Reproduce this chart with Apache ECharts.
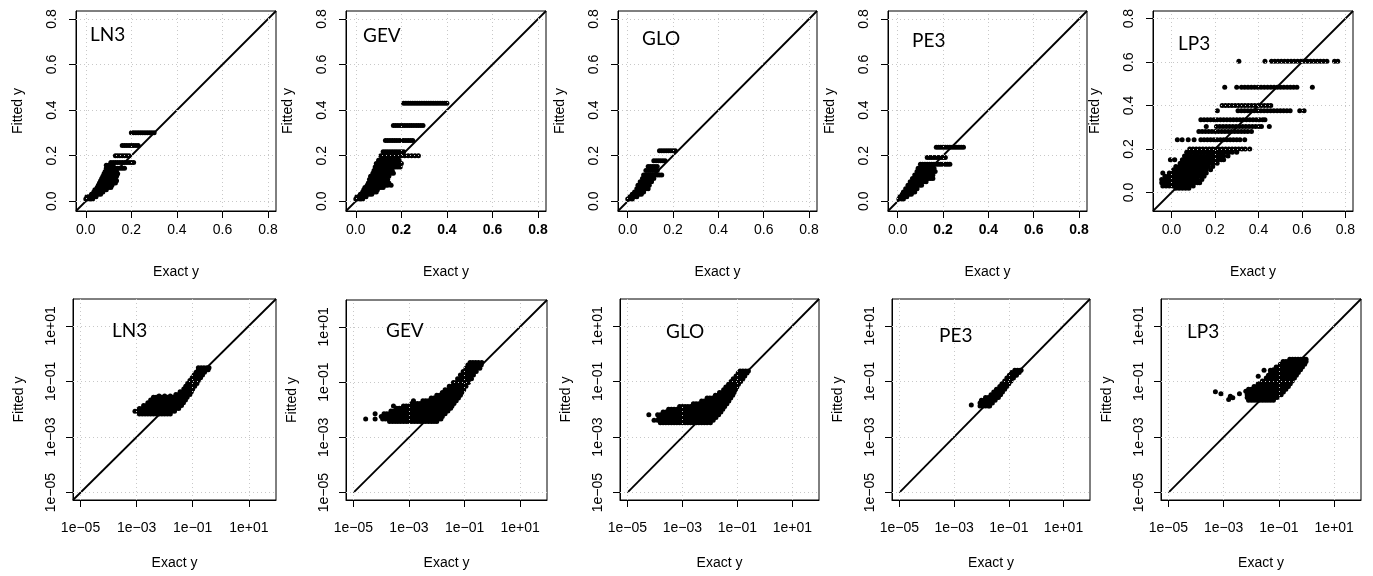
<!DOCTYPE html>
<html><head><meta charset="utf-8">
<script src="https://cdn.jsdelivr.net/npm/echarts@6/dist/echarts.min.js"></script>
<style>html,body{margin:0;padding:0;background:#fff}#c{width:1373px;height:576px}</style>
</head><body><div id="c"></div>
<script>
// ---------- DATA ----------
const panelNames = ['LN3', 'GEV', 'GLO', 'PE3', 'LP3'];
const xAxisTitle = 'Exact y';
const yAxisTitle = 'Fitted y';
const linTicks = [0, 0.2, 0.4, 0.6, 0.8];
const logTicks = [-5, -3, -1, 1];               // log10 positions
const logTickLabels = ['1e\u221205', '1e\u221203', '1e\u221201', '1e+01'];

// Top row (linear): each row = [fitted y, exact y values...]
const ln3Lin = [
 [0.30, 0.20,0.21,0.22,0.23,0.24,0.25,0.26,0.27,0.28,0.29,0.30],
 [0.245, 0.16,0.17,0.18,0.19,0.20,0.21,0.22,0.23],
 [0.20, 0.13,0.14,0.15,0.16,0.17,0.18,0.19],
 [0.17, 0.11,0.12,0.13,0.14,0.15,0.16,0.17,0.18,0.19,0.20,0.21],
 [0.158, 0.09,0.10,0.11,0.12],
 [0.145, 0.09,0.10,0.11,0.12,0.13,0.14,0.15,0.16,0.17],
 [0.13, 0.085,0.095,0.105,0.115,0.125,0.135],
 [0.12, 0.08,0.09,0.10,0.11,0.12,0.13,0.14],
 [0.11, 0.075,0.085,0.095,0.105,0.115,0.125,0.135],
 [0.10, 0.07,0.08,0.09,0.10,0.11,0.12,0.13],
 [0.09, 0.065,0.075,0.085,0.095,0.105,0.115,0.125,0.135],
 [0.08, 0.06,0.07,0.08,0.09,0.10,0.11,0.12,0.13],
 [0.07, 0.055,0.065,0.075,0.085,0.095,0.105,0.115],
 [0.06, 0.05,0.06,0.07,0.08,0.09,0.10,0.11],
 [0.05, 0.04,0.05,0.06,0.07,0.08,0.09],
 [0.04, 0.035,0.045,0.055,0.065,0.075],
 [0.03, 0.025,0.035,0.045,0.055,0.065],
 [0.02, 0.005,0.015,0.025,0.035,0.045],
 [0.01, 0.0,0.01,0.02,0.03]
];
const gevLin = [
 [0.43, 0.21,0.22,0.23,0.24,0.25,0.26,0.27,0.28,0.29,0.30,0.31,0.32,0.33,0.34,0.35,0.36,0.37,0.38,0.39,0.40],
 [0.332, 0.165,0.175,0.185,0.195,0.205,0.215,0.225,0.235,0.245,0.255,0.265,0.275,0.285,0.295],
 [0.266, 0.13,0.14,0.15,0.16,0.17,0.18,0.19,0.20,0.21,0.22,0.23,0.24,0.25],
 [0.217, 0.12,0.13,0.14,0.15,0.16,0.17,0.18,0.19,0.20,0.21],
 [0.20, 0.11,0.12,0.13,0.14,0.15,0.16,0.17,0.18,0.19,0.20,0.215,0.23,0.245,0.26,0.275],
 [0.18, 0.10,0.11,0.12,0.13,0.14,0.15,0.16,0.17,0.18,0.19],
 [0.165, 0.09,0.10,0.11,0.12,0.13,0.14,0.15,0.16,0.17,0.18,0.19,0.20],
 [0.15, 0.085,0.095,0.105,0.115,0.125,0.135,0.145,0.155,0.165,0.175,0.185,0.195],
 [0.135, 0.08,0.09,0.10,0.11,0.12,0.13,0.14,0.15,0.16],
 [0.123, 0.075,0.085,0.095,0.105,0.115,0.125,0.135,0.145,0.155,0.165],
 [0.11, 0.065,0.075,0.085,0.095,0.105,0.115,0.125,0.135,0.145],
 [0.095, 0.06,0.07,0.08,0.09,0.10,0.11,0.12,0.13,0.14],
 [0.08, 0.055,0.065,0.075,0.085,0.095,0.105,0.115,0.125,0.135,0.145],
 [0.07, 0.05,0.06,0.07,0.08,0.09,0.10,0.11,0.12,0.13,0.14,0.155],
 [0.06, 0.04,0.05,0.06,0.07,0.08,0.09,0.10,0.11,0.12],
 [0.05, 0.035,0.045,0.055,0.065,0.075,0.085,0.095],
 [0.04, 0.03,0.04,0.05,0.06,0.07,0.08,0.09],
 [0.03, 0.02,0.03,0.04,0.05,0.06,0.07],
 [0.02, 0.005,0.015,0.025,0.035,0.045],
 [0.01, 0.0,0.01,0.02,0.03]
];
const gloLin = [
 [0.222, 0.14,0.15,0.16,0.17,0.18,0.19,0.20,0.21],
 [0.178, 0.115,0.125,0.135,0.145,0.155,0.165],
 [0.152, 0.09,0.10,0.11,0.12,0.13],
 [0.135, 0.08,0.09,0.10,0.11,0.12,0.13],
 [0.115, 0.07,0.08,0.09,0.10,0.11,0.12,0.13,0.14,0.15],
 [0.10, 0.065,0.075,0.085,0.095,0.105,0.115],
 [0.085, 0.055,0.065,0.075,0.085,0.095,0.105],
 [0.07, 0.045,0.055,0.065,0.075,0.085,0.095],
 [0.055, 0.04,0.05,0.06,0.07,0.08,0.09],
 [0.04, 0.03,0.04,0.05,0.06,0.07],
 [0.03, 0.02,0.03,0.04,0.05,0.06],
 [0.02, 0.01,0.02,0.03,0.04],
 [0.01, 0.0,0.01,0.02]
];
const pe3Lin = [
 [0.237, 0.17,0.18,0.19,0.20,0.21,0.22,0.23,0.24,0.25,0.26,0.27,0.28,0.29],
 [0.192, 0.13,0.14,0.15,0.16,0.17,0.18,0.19,0.20,0.21],
 [0.162, 0.10,0.11,0.12,0.13,0.14,0.15,0.16,0.17,0.18,0.19,0.20,0.21,0.22,0.23],
 [0.145, 0.09,0.10,0.11,0.12,0.13,0.14,0.15,0.16],
 [0.13, 0.085,0.095,0.105,0.115,0.125,0.135,0.145,0.155,0.165],
 [0.115, 0.075,0.085,0.095,0.105,0.115,0.125,0.135,0.145,0.155],
 [0.10, 0.065,0.075,0.085,0.095,0.105,0.115,0.125,0.135,0.145,0.155],
 [0.085, 0.055,0.065,0.075,0.085,0.095,0.105,0.115,0.125],
 [0.07, 0.045,0.055,0.065,0.075,0.085,0.095,0.105],
 [0.055, 0.035,0.045,0.055,0.065,0.075,0.085],
 [0.04, 0.025,0.035,0.045,0.055,0.065,0.075],
 [0.03, 0.02,0.03,0.04,0.05,0.06],
 [0.02, 0.01,0.02,0.03,0.04],
 [0.01, 0.005,0.015,0.025]
];
const lp3Lin = [
 [0.604, 0.31,0.43,0.46,0.475,0.49,0.505,0.52,0.535,0.55,0.565,0.58,0.595,0.61,0.625,0.64,0.655,0.67,0.685,0.70,0.715,0.75,0.765],
 [0.484, 0.245,0.30,0.322,0.337,0.352,0.367,0.382,0.397,0.412,0.427,0.442,0.457,0.472,0.487,0.502,0.517,0.532,0.547,0.562,0.577,0.648],
 [0.40, 0.233,0.248,0.263,0.278,0.293,0.308,0.323,0.338,0.353,0.368,0.383,0.398,0.413,0.428,0.443,0.457],
 [0.376, 0.211,0.306,0.321,0.336,0.351,0.366,0.381,0.396,0.411,0.426,0.441,0.456,0.471,0.486,0.501,0.516,0.531,0.546,0.59,0.61],
 [0.335, 0.135,0.15,0.165,0.18,0.195,0.21,0.225,0.24,0.255,0.27,0.285,0.30,0.315,0.33,0.345,0.36,0.375,0.39,0.405,0.42,0.43],
 [0.304, 0.16,0.207,0.222,0.237,0.252,0.267,0.282,0.297,0.312,0.327,0.342,0.357,0.372,0.387,0.402,0.414,0.45],
 [0.281, 0.126,0.141,0.156,0.171,0.186,0.201,0.216,0.231,0.246,0.261,0.276,0.291,0.306,0.321,0.336,0.351,0.368],
 [0.243, 0.027,0.049,0.077,0.104,0.135,0.15,0.165,0.18,0.195,0.21,0.225,0.24,0.255,0.27,0.285,0.30,0.315,0.337],
 [0.20, 0.084,0.099,0.114,0.129,0.144,0.159,0.174,0.189,0.204,0.219,0.234,0.249,0.264,0.279,0.294,0.309,0.324,0.339,0.36],
 [0.185, 0.07,0.085,0.10,0.115,0.13,0.145,0.16,0.175,0.19,0.205,0.22,0.235,0.25,0.265,0.28,0.30],
 [0.168, 0.06,0.075,0.09,0.105,0.12,0.135,0.15,0.165,0.18,0.195,0.21,0.225,0.24,0.26],
 [0.151, -0.005,0.015,0.05,0.065,0.08,0.095,0.11,0.125,0.14,0.155,0.17,0.185,0.20,0.215,0.23,0.24],
 [0.135, 0.04,0.055,0.07,0.085,0.10,0.115,0.13,0.145,0.16,0.175,0.19,0.21],
 [0.12, 0.02,0.035,0.05,0.065,0.08,0.095,0.11,0.125,0.14,0.155,0.17,0.19],
 [0.105, 0.01,0.025,0.04,0.055,0.07,0.085,0.10,0.115,0.13,0.145,0.16,0.18],
 [0.09, -0.04,-0.01,0.005,0.02,0.035,0.05,0.065,0.08,0.095,0.11,0.125,0.14,0.16],
 [0.075, -0.03,-0.015,0.0,0.015,0.03,0.045,0.06,0.075,0.09,0.105,0.12,0.135,0.15],
 [0.06, -0.045,-0.03,-0.015,0.0,0.015,0.03,0.045,0.06,0.075,0.09,0.105,0.12,0.14],
 [0.045, -0.045,-0.03,-0.015,0.0,0.015,0.03,0.045,0.06,0.075,0.09,0.105,0.12,0.13],
 [0.03, -0.04,-0.025,-0.01,0.005,0.02,0.035,0.05,0.065,0.08,0.10],
 [0.02, 0.02,0.035,0.05,0.065,0.08]
];

// Bottom row (log10 of values): each row = [log10 fitted y, log10 exact y values...]
const ln3Log = [
 [-2.17, -2.9,-2.8,-2.7,-2.6,-2.5,-2.4,-2.3,-2.2,-2.1,-2.0,-1.9,-1.8],
 [-2.07, -3.06,-2.95,-2.85,-2.75,-2.65,-2.55,-2.45,-2.35,-2.25,-2.15,-2.05,-1.95,-1.85,-1.75,-1.65],
 [-1.97, -2.9,-2.8,-2.7,-2.6,-2.5,-2.4,-2.3,-2.2,-2.1,-2.0,-1.9,-1.8,-1.7,-1.6,-1.5],
 [-1.87, -2.75,-2.65,-2.55,-2.45,-2.35,-2.25,-2.15,-2.05,-1.95,-1.85,-1.75,-1.65,-1.55,-1.45,-1.4],
 [-1.77, -2.6,-2.5,-2.4,-2.3,-2.2,-2.1,-2.0,-1.9,-1.8,-1.7,-1.6,-1.5,-1.4,-1.33],
 [-1.67, -2.5,-2.4,-2.3,-2.2,-2.1,-2.0,-1.9,-1.8,-1.7,-1.6,-1.5,-1.4,-1.32,-1.26],
 [-1.57, -2.4,-2.3,-2.2,-2.1,-2.0,-1.9,-1.8,-1.7,-1.6,-1.5,-1.4,-1.3,-1.2],
 [-1.52, -2.2,-2.0,-1.8,-1.6],
 [-1.47, -1.6,-1.5,-1.4,-1.3,-1.2,-1.1],
 [-1.37, -1.45,-1.35,-1.25,-1.15,-1.05],
 [-1.27, -1.32,-1.22,-1.12,-1.0],
 [-1.17, -1.25,-1.15,-1.05,-0.93],
 [-1.07, -1.18,-1.08,-0.98,-0.85],
 [-0.97, -1.1,-1.0,-0.9,-0.8],
 [-0.87, -1.02,-0.92,-0.82,-0.72],
 [-0.77, -0.95,-0.85,-0.75,-0.65],
 [-0.67, -0.88,-0.78,-0.68,-0.58],
 [-0.58, -0.8,-0.7,-0.6,-0.5,-0.45],
 [-0.51, -0.8,-0.7,-0.6,-0.5,-0.42]
];
const gevLog = [
 [-2.43, -3.7,-3.6,-3.5,-3.4,-3.3,-3.2,-3.1,-3.0,-2.9,-2.8,-2.7,-2.6,-2.5,-2.4,-2.3,-2.2,-2.1,-2.0],
 [-2.34, -4.56,-4.22,-3.95,-3.85,-3.75,-3.65,-3.55,-3.45,-3.35,-3.25,-3.15,-3.05,-2.95,-2.85,-2.75,-2.65,-2.55,-2.45,-2.35,-2.25,-2.15,-2.05,-1.95,-1.85],
 [-2.25, -4.0,-3.9,-3.8,-3.7,-3.6,-3.5,-3.4,-3.3,-3.2,-3.1,-3.0,-2.9,-2.8,-2.7,-2.6,-2.5,-2.4,-2.3,-2.2,-2.1,-2.0,-1.9,-1.8],
 [-2.15, -4.22,-3.9,-3.8,-3.7,-3.6,-3.5,-3.4,-3.3,-3.2,-3.1,-3.0,-2.9,-2.8,-2.7,-2.6,-2.5,-2.4,-2.3,-2.2,-2.1,-2.0,-1.9,-1.8,-1.7],
 [-2.05, -3.65,-3.55,-3.45,-3.35,-3.25,-3.15,-3.05,-2.95,-2.85,-2.75,-2.65,-2.55,-2.45,-2.35,-2.25,-2.15,-2.05,-1.95,-1.85,-1.75,-1.65,-1.6],
 [-1.95, -3.45,-3.35,-3.25,-3.15,-3.05,-2.95,-2.85,-2.75,-2.65,-2.55,-2.45,-2.35,-2.25,-2.15,-2.05,-1.95,-1.85,-1.75,-1.65,-1.55,-1.5],
 [-1.87, -3.56,-3.2,-3.1,-3.0,-2.9,-2.8,-2.7,-2.6,-2.5,-2.4,-2.3,-2.2,-2.1,-2.0,-1.9,-1.8,-1.7,-1.6,-1.5,-1.45],
 [-1.78, -2.9,-2.8,-2.7,-2.6,-2.5,-2.4,-2.3,-2.2,-2.1,-2.0,-1.9,-1.8,-1.7,-1.6,-1.5,-1.38],
 [-1.68, -2.84,-2.5,-2.4,-2.3,-2.2,-2.1,-2.0,-1.9,-1.8,-1.7,-1.6,-1.5,-1.4,-1.3],
 [-1.58, -2.2,-2.1,-2.0,-1.9,-1.8,-1.7,-1.6,-1.5,-1.4,-1.3,-1.22],
 [-1.48, -2.0,-1.9,-1.8,-1.7,-1.6,-1.5,-1.4,-1.3,-1.2,-1.15],
 [-1.38, -1.8,-1.7,-1.6,-1.5,-1.4,-1.3,-1.2,-1.1],
 [-1.28, -1.7,-1.6,-1.5,-1.4,-1.3,-1.2,-1.1,-1.03],
 [-1.15, -1.55,-1.45,-1.35,-1.25,-1.15,-1.05,-0.95],
 [-1.02, -1.4,-1.3,-1.2,-1.1,-1.0,-0.9,-0.86],
 [-0.88, -1.25,-1.15,-1.05,-0.95,-0.85,-0.75],
 [-0.75, -1.15,-1.05,-0.95,-0.85,-0.75,-0.68],
 [-0.62, -1.05,-0.95,-0.85,-0.75,-0.65,-0.58],
 [-0.5, -0.95,-0.85,-0.75,-0.65,-0.55,-0.45],
 [-0.38, -0.88,-0.78,-0.68,-0.58,-0.48,-0.4],
 [-0.29, -0.8,-0.7,-0.6,-0.5,-0.38]
];
const gloLog = [
 [-2.49, -3.8,-3.7,-3.6,-3.5,-3.4,-3.3,-3.2,-3.1,-3.0,-2.9,-2.8,-2.7,-2.6,-2.5,-2.4,-2.3,-2.2,-2.1,-1.98],
 [-2.4, -4.03,-3.9,-3.8,-3.7,-3.6,-3.5,-3.4,-3.3,-3.2,-3.1,-3.0,-2.9,-2.8,-2.7,-2.6,-2.5,-2.4,-2.3,-2.2,-2.1,-2.0,-1.88],
 [-2.3, -3.85,-3.75,-3.65,-3.55,-3.45,-3.35,-3.25,-3.15,-3.05,-2.95,-2.85,-2.75,-2.65,-2.55,-2.45,-2.35,-2.25,-2.15,-2.05,-1.95,-1.85,-1.78],
 [-2.2, -4.22,-3.9,-3.8,-3.7,-3.6,-3.5,-3.4,-3.3,-3.2,-3.1,-3.0,-2.9,-2.8,-2.7,-2.6,-2.5,-2.4,-2.3,-2.2,-2.1,-2.0,-1.9,-1.8,-1.68],
 [-2.1, -3.7,-3.6,-3.5,-3.4,-3.3,-3.2,-3.1,-3.0,-2.9,-2.8,-2.7,-2.6,-2.5,-2.4,-2.3,-2.2,-2.1,-2.0,-1.9,-1.8,-1.7,-1.6],
 [-2.0, -3.5,-3.4,-3.3,-3.2,-3.1,-3.0,-2.9,-2.8,-2.7,-2.6,-2.5,-2.4,-2.3,-2.2,-2.1,-2.0,-1.9,-1.8,-1.7,-1.6,-1.53],
 [-1.9, -3.1,-3.0,-2.9,-2.8,-2.7,-2.6,-2.5,-2.4,-2.3,-2.2,-2.1,-2.0,-1.9,-1.8,-1.7,-1.6,-1.5,-1.46],
 [-1.8, -2.6,-2.5,-2.4,-2.3,-2.2,-2.1,-2.0,-1.9,-1.8,-1.7,-1.6,-1.5,-1.38],
 [-1.7, -2.3,-2.2,-2.1,-2.0,-1.9,-1.8,-1.7,-1.6,-1.5,-1.4,-1.31],
 [-1.6, -2.1,-2.0,-1.9,-1.8,-1.7,-1.6,-1.5,-1.4,-1.3,-1.24],
 [-1.5, -1.8,-1.7,-1.6,-1.5,-1.4,-1.3,-1.17],
 [-1.4, -1.65,-1.55,-1.45,-1.35,-1.25,-1.12],
 [-1.3, -1.5,-1.4,-1.3,-1.2,-1.07],
 [-1.2, -1.42,-1.32,-1.22,-1.12,-1.02],
 [-1.1, -1.32,-1.22,-1.12,-1.02,-0.96],
 [-1.0, -1.23,-1.13,-1.03,-0.93,-0.88],
 [-0.9, -1.15,-1.05,-0.95,-0.85,-0.8],
 [-0.8, -1.05,-0.95,-0.85,-0.73],
 [-0.7, -0.97,-0.87,-0.77,-0.65],
 [-0.62, -0.9,-0.8,-0.7,-0.6]
];
const pe3Log = [
 [-1.85, -2.37],
 [-1.88, -2.05,-1.95,-1.85,-1.75,-1.7],
 [-1.78, -2.05,-1.95,-1.85,-1.75,-1.65,-1.6],
 [-1.68, -2.0,-1.9,-1.8,-1.7,-1.6,-1.5],
 [-1.58, -1.85,-1.75,-1.65,-1.55,-1.45,-1.38],
 [-1.48, -1.65,-1.55,-1.45,-1.35,-1.3],
 [-1.38, -1.55,-1.45,-1.35,-1.23],
 [-1.28, -1.45,-1.35,-1.25,-1.15],
 [-1.18, -1.33,-1.23,-1.13,-1.08],
 [-1.08, -1.25,-1.15,-1.05,-1.0],
 [-0.98, -1.15,-1.05,-0.95,-0.92],
 [-0.88, -1.07,-0.97,-0.87,-0.83],
 [-0.78, -0.98,-0.88,-0.78,-0.72],
 [-0.68, -0.9,-0.8,-0.7,-0.62],
 [-0.6, -0.78,-0.68,-0.58,-0.55]
];
const lp3Log = [
 [-1.37, -3.30], [-1.44, -3.10,-2.43], [-1.65, -2.82], [-1.53, -2.76], [-1.59, -2.67], [-1.35, -2.20],
 [-0.81, -1.75], [-0.60, -1.54,-1.31],
 [-1.68, -2.1,-2.0,-1.9,-1.8,-1.7,-1.6,-1.5,-1.4,-1.3,-1.2],
 [-1.58, -2.15,-2.05,-1.95,-1.85,-1.75,-1.65,-1.55,-1.45,-1.35,-1.25,-1.15,-1.07],
 [-1.48, -2.15,-2.05,-1.95,-1.85,-1.75,-1.65,-1.55,-1.45,-1.35,-1.25,-1.15,-1.05,-0.92],
 [-1.38, -2.15,-2.05,-1.95,-1.85,-1.75,-1.65,-1.55,-1.45,-1.35,-1.25,-1.15,-1.05,-0.95,-0.84],
 [-1.28, -2.1,-2.0,-1.9,-1.8,-1.7,-1.6,-1.5,-1.4,-1.3,-1.2,-1.1,-1.0,-0.9,-0.8,-0.75],
 [-1.18, -1.9,-1.8,-1.7,-1.6,-1.5,-1.4,-1.3,-1.2,-1.1,-1.0,-0.9,-0.8,-0.7,-0.66],
 [-1.08, -1.75,-1.65,-1.55,-1.45,-1.35,-1.25,-1.15,-1.05,-0.95,-0.85,-0.75,-0.65,-0.59],
 [-0.98, -1.6,-1.5,-1.4,-1.3,-1.2,-1.1,-1.0,-0.9,-0.8,-0.7,-0.6,-0.52],
 [-0.88, -1.46,-1.36,-1.26,-1.16,-1.06,-0.96,-0.86,-0.76,-0.66,-0.56,-0.44],
 [-0.78, -1.38,-1.28,-1.18,-1.08,-0.98,-0.88,-0.78,-0.68,-0.58,-0.48,-0.37],
 [-0.68, -1.3,-1.2,-1.1,-1.0,-0.9,-0.8,-0.7,-0.6,-0.5,-0.4,-0.3],
 [-0.58, -1.2,-1.1,-1.0,-0.9,-0.8,-0.7,-0.6,-0.5,-0.4,-0.3,-0.22],
 [-0.48, -1.1,-1.0,-0.9,-0.8,-0.7,-0.6,-0.5,-0.4,-0.3,-0.2,-0.15],
 [-0.38, -0.95,-0.85,-0.75,-0.65,-0.55,-0.45,-0.35,-0.25,-0.15,-0.07],
 [-0.28, -0.85,-0.75,-0.65,-0.55,-0.45,-0.35,-0.25,-0.15,-0.05,-0.02],
 [-0.2, -0.61,-0.51,-0.41,-0.31,-0.21,-0.11,-0.02]
];

// Axis ranges (plot limits)
const linRange = [-0.043, 0.835];
const lp3LinRange = [-0.085, 0.835];
const logRange = [-5.268, 1.968];
const topRows = [ln3Lin, gevLin, gloLin, pe3Lin, lp3Lin];
const bottomRows = [ln3Log, gevLog, gloLog, pe3Log, lp3Log];
// diagonal y = x start points (bottom row: LN3 drawn from the corner, others from 1e-05)
const logDiagStart = [logRange[0], -5, -5, -5, -5];

// ---------- LAYOUT ----------
const topBoxes = [[76,11,200,200],[346,11,200,200],[618,11,199,200],[888,11,199,200],[1153,11,200,200]];
const botBoxes = [[73,299,203,201],[346,300,201,200],[620,299,199,201],[892,299,198,201],[1161,299,200,201]];
const topTitlePos = [[90,25],[363,26],[642,29],[912,31],[1178,34]];
const botTitlePos = [[112,321],[386,321],[666,322],[939,326],[1187,322]];

const FONT = 'Liberation Sans, Arial, Helvetica, sans-serif';
const chart = echarts.init(document.getElementById('c'), null, {renderer: 'canvas'});

const grids = [], xAxes = [], yAxes = [], series = [], titles = [];
function flatten(rows) {
  const out = [];
  rows.forEach(r => { for (let k = 1; k < r.length; k++) out.push([r[k], r[0]]); });
  return out;
}
function addPanel(idx, box, range, ticks, labelFmt, isLog, diagStart, boldX) {
  grids.push({left: box[0], top: box[1], width: box[2], height: box[3], show: true,
    borderColor: '#000', borderWidth: 1, backgroundColor: 'transparent', containLabel: false});
  const common = {
    gridIndex: idx, type: 'value', min: range[0], max: range[1],
    axisLine: {show: true, onZero: false, lineStyle: {color: '#000', width: 1}},
    axisTick: {show: true, inside: false, length: 7, customValues: ticks, lineStyle: {color: '#000', width: 1}},
    splitLine: {show: false},
    nameLocation: 'middle',
    nameTextStyle: {fontFamily: FONT, fontSize: 14, color: '#000'}
  };
  xAxes.push(Object.assign({}, common, {
    position: 'bottom', name: xAxisTitle, nameGap: isLog ? 56 : 54,
    axisLabel: {customValues: ticks, fontFamily: FONT, fontSize: 14, color: '#000', margin: isLog ? 21 : 12,
      formatter: v => { const s = labelFmt(v); return (boldX && v > 0) ? '{b|' + s + '}' : s; },
      rich: {b: {fontFamily: FONT, fontSize: 14, fontWeight: 'bold', color: '#000'}}}
  }));
  yAxes.push(Object.assign({}, common, {
    position: 'left', name: yAxisTitle, nameGap: isLog ? 47 : 51,
    axisLabel: {customValues: ticks, rotate: 90, fontFamily: FONT, fontSize: 14, color: '#000', margin: isLog ? 15 : 17,
      formatter: v => labelFmt(v)}
  }));
  // dotted reference grid at the tick positions
  const gridLines = ticks.map(t => ({xAxis: t})).concat(ticks.map(t => ({yAxis: t})));
  series.push({type: 'scatter', xAxisIndex: idx, yAxisIndex: idx, data: [], silent: true, z: 1,
    markLine: {silent: true, symbol: ['none', 'none'], label: {show: false}, animation: false,
      lineStyle: {color: '#c8c8c8', type: [1, 3], width: 1}, emphasis: {disabled: true}, data: gridLines}});
  series.push({type: 'scatter', xAxisIndex: idx, yAxisIndex: idx, symbol: 'circle', symbolSize: 5,
    itemStyle: {color: '#000', opacity: 1}, silent: true, z: 2, data: flatten(isLog ? bottomRows[idx - 5] : topRows[idx])});
  series.push({type: 'line', xAxisIndex: idx, yAxisIndex: idx, symbol: 'none', silent: true, z: 3,
    lineStyle: {color: '#000', width: 1.8}, data: [[diagStart, diagStart], [range[1], range[1]]]});
}
const linFmt = v => v.toFixed(1);
const logFmt = v => logTickLabels[logTicks.indexOf(Math.round(v))];
for (let i = 0; i < 5; i++) {
  const r = i === 4 ? lp3LinRange : linRange;
  addPanel(i, topBoxes[i], r, linTicks, linFmt, false, r[0], i === 1 || i === 3);
  titles.push({text: panelNames[i], left: topTitlePos[i][0], top: topTitlePos[i][1], padding: 0,
    textStyle: {fontFamily: 'Lato', fontSize: 19, fontWeight: 'normal', color: '#000'}});
}
for (let i = 0; i < 5; i++) {
  addPanel(i + 5, botBoxes[i], logRange, logTicks, logFmt, true, logDiagStart[i], false);
  titles.push({text: panelNames[i], left: botTitlePos[i][0], top: botTitlePos[i][1], padding: 0,
    textStyle: {fontFamily: 'Lato', fontSize: 19, fontWeight: 'normal', color: '#000'}});
}
chart.setOption({animation: false, backgroundColor: '#fff', title: titles, grid: grids,
  xAxis: xAxes, yAxis: yAxes, series: series});
</script></body></html>
